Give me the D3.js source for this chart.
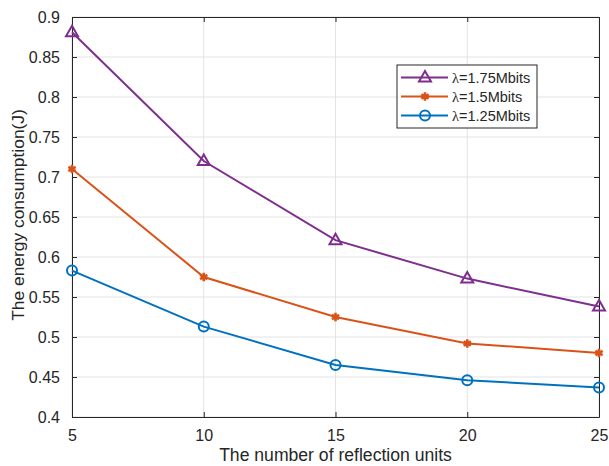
<!DOCTYPE html>
<html><head><meta charset="utf-8">
<script src="https://cdn.jsdelivr.net/npm/d3@7"></script>
<style>body{margin:0;background:#fff}svg{display:block}text{font-family:"Liberation Sans",Arial,Helvetica,sans-serif;fill:#262626}</style>
</head><body>
<script>
const xValues = [5, 10, 15, 20, 25];
const series175 = [0.881, 0.72, 0.621, 0.573, 0.538];
const series15 = [0.710, 0.575, 0.525, 0.492, 0.480];
const series125 = [0.583, 0.513, 0.465, 0.446, 0.437];
const xTicks = [5, 10, 15, 20, 25];
const yTicks = [0.4, 0.45, 0.5, 0.55, 0.6, 0.65, 0.7, 0.75, 0.8, 0.85, 0.9];
const seriesNames = ["=1.75Mbits", "=1.5Mbits", "=1.25Mbits"];
const seriesSymbol = "\u03bb";
const seriesColors = ["#7E2F8E", "#D95319", "#0072BD"];
const seriesMarkers = ["triangle", "asterisk", "circle"];
const xLabel = "The number of reflection units";
const yLabel = "The energy consumption(J)";

const W = 609, H = 466;
const L = 72, R = 599, T = 17, B = 417;
const svg = d3.select("body").append("svg").attr("width", W).attr("height", H);
const x = d3.scaleLinear().domain([5, 25]).range([L, R]);
const y = d3.scaleLinear().domain([0.4, 0.9]).range([B, T]);

// grid
const g = svg.append("g");
g.selectAll(".gx").data(xTicks).enter().append("line")
  .attr("x1", d => x(d)).attr("x2", d => x(d)).attr("y1", T).attr("y2", B)
  .attr("stroke", "#e3e3e3").attr("stroke-width", 1);
g.selectAll(".gy").data(yTicks).enter().append("line")
  .attr("y1", d => y(d)).attr("y2", d => y(d)).attr("x1", L).attr("x2", R)
  .attr("stroke", "#e3e3e3").attr("stroke-width", 1);

// axes
const axB = svg.append("g").attr("transform", `translate(0,${B})`)
  .call(d3.axisBottom(x).tickValues(xTicks).tickSizeInner(-5).tickSizeOuter(0).tickPadding(13).tickFormat(d3.format("d")));
const axT = svg.append("g").attr("transform", `translate(0,${T})`)
  .call(d3.axisTop(x).tickValues(xTicks).tickSizeInner(-5).tickSizeOuter(0).tickFormat(""));
const axLft = svg.append("g").attr("transform", `translate(${L},0)`)
  .call(d3.axisLeft(y).tickValues(yTicks).tickSizeInner(-5).tickSizeOuter(0).tickPadding(12).tickFormat(d => d3.format("")(+d.toFixed(2))));
const axRt = svg.append("g").attr("transform", `translate(${R},0)`)
  .call(d3.axisRight(y).tickValues(yTicks).tickSizeInner(-5).tickSizeOuter(0).tickFormat(""));
[axB, axT, axLft, axRt].forEach(a => {
  a.select(".domain").attr("stroke", "#262626").attr("stroke-width", 1);
  a.selectAll(".tick line").attr("stroke", "#262626");
  a.selectAll("text").attr("font-size", 16).attr("fill", "#262626")
   .attr("font-family", '"Liberation Sans",Arial,sans-serif');
});

const allSeries = [series175, series15, series125];
const line = d3.line().x((d, i) => x(xValues[i])).y(d => y(d));

function drawMarker(sel, type, color) {
  if (type === "triangle") {
    sel.append("path").attr("d", "M0,-6.5 L6,4 L-6,4 Z")
      .attr("fill", "none").attr("stroke", color).attr("stroke-width", 2);
  } else if (type === "circle") {
    sel.append("circle").attr("r", 5).attr("fill", "none").attr("stroke", color).attr("stroke-width", 2);
  } else {
    sel.append("path").attr("d", d3.symbol(d3.symbolAsterisk, 50)())
      .attr("fill", "none").attr("stroke", color).attr("stroke-width", 2.6);
  }
}

allSeries.forEach((s, k) => {
  svg.append("path").datum(s).attr("d", line).attr("fill", "none")
    .attr("stroke", seriesColors[k]).attr("stroke-width", 2);
  s.forEach((v, i) => {
    const m = svg.append("g").attr("transform", `translate(${x(xValues[i])},${y(v)})`);
    drawMarker(m, seriesMarkers[k], seriesColors[k]);
  });
});

// labels
svg.append("text").attr("x", (L + R) / 2).attr("y", 461).attr("text-anchor", "middle")
  .attr("font-size", 17.6).text(xLabel);
svg.append("text").attr("transform", `translate(24,${(T + B) / 2 - 2}) rotate(-90)`)
  .attr("text-anchor", "middle").attr("font-size", 17.4).text(yLabel);

// legend
const lg = svg.append("g");
lg.append("rect").attr("x", 397).attr("y", 65).attr("width", 140).attr("height", 63)
  .attr("fill", "#fff").attr("stroke", "#262626").attr("stroke-width", 1);
const rowsY = [77.5, 96.5, 115.5];
seriesNames.forEach((n, k) => {
  lg.append("line").attr("x1", 401).attr("x2", 448).attr("y1", rowsY[k]).attr("y2", rowsY[k])
    .attr("stroke", seriesColors[k]).attr("stroke-width", 2);
  const m = lg.append("g").attr("transform", `translate(425,${rowsY[k]})`);
  drawMarker(m, seriesMarkers[k], seriesColors[k]);
  const t = lg.append("text").attr("x", 452).attr("y", rowsY[k] + 5).attr("font-size", 14.5);
  t.append("tspan").attr("font-family", '"Liberation Serif","Times New Roman",serif').text(seriesSymbol);
  t.append("tspan").text(n);
});
</script>
</body></html>
